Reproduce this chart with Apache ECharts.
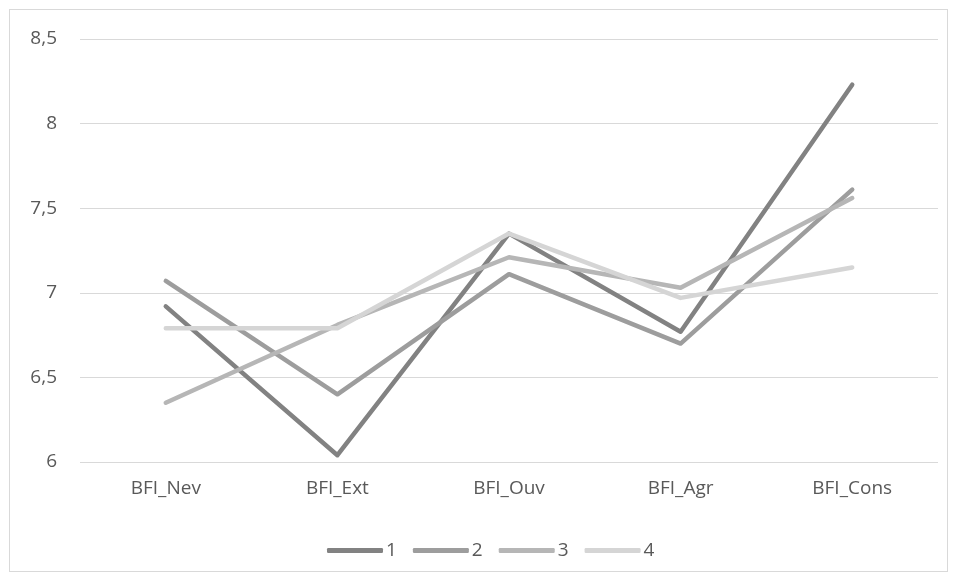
<!DOCTYPE html>
<html>
<head>
<meta charset="utf-8">
<script src="https://cdn.jsdelivr.net/npm/echarts@6/dist/echarts.min.js"></script>
<style>
  html, body { margin: 0; padding: 0; background: #fff; }
  #frame { position: absolute; left: 9px; top: 9px; width: 937px; height: 561px; border: 1px solid #d9d9d9; }
  #chart { position: absolute; left: 0; top: 0; width: 956px; height: 581px; }
</style>
</head>
<body>
<div id="frame"></div>
<div id="chart"></div>
<script>
// categories and series values
const categories = ['BFI_Nev', 'BFI_Ext', 'BFI_Ouv', 'BFI_Agr', 'BFI_Cons'];
const seriesNames = ['1', '2', '3', '4'];
const group1 = [6.92, 6.04, 7.35, 6.77, 8.23];
const group2 = [7.07, 6.40, 7.11, 6.70, 7.61];
const group3 = [6.35, 6.81, 7.21, 7.03, 7.56];
const group4 = [6.79, 6.79, 7.35, 6.97, 7.15];
const colors = ['#828282', '#9d9d9d', '#b6b6b6', '#d5d5d5'];

const font = '"Open Sans", "Noto Sans", sans-serif';
const values = [group1, group2, group3, group4];

const chart = echarts.init(document.getElementById('chart'));
chart.setOption({
    animation: false,
    grid: { left: 80, right: 18, top: 39, bottom: 119 },
    legend: {
        data: seriesNames,
        left: 322,
        top: 536,
        itemWidth: 56,
        itemHeight: 5,
        itemGap: 16,
        icon: 'roundRect',
        textStyle: { color: '#595959', fontSize: 19, fontFamily: font, padding: [0, 0, 0, -2] }
    },
    xAxis: {
        type: 'category',
        data: categories,
        boundaryGap: true,
        axisLine: { show: false },
        axisTick: { show: false },
        axisLabel: { color: '#595959', fontSize: 19, fontFamily: font, margin: 17 }
    },
    yAxis: {
        type: 'value',
        min: 6,
        max: 8.5,
        interval: 0.5,
        axisLine: { show: false },
        axisTick: { show: false },
        splitLine: { lineStyle: { color: '#d9d9d9', width: 1 } },
        axisLabel: {
            color: '#595959', fontSize: 19, fontFamily: font, margin: 23,
            formatter: v => String(v).replace('.', ',')
        }
    },
    series: seriesNames.map((n, i) => ({
        name: n,
        type: 'line',
        data: values[i],
        symbol: 'none',
        color: colors[i],
        lineStyle: { width: 4.5, cap: 'round', join: 'round' }
    }))
});
</script>
</body>
</html>
